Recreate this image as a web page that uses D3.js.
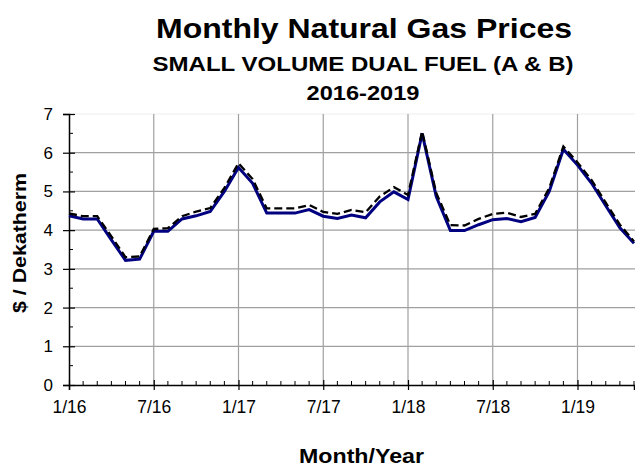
<!DOCTYPE html>
<html>
<head>
<meta charset="utf-8">
<script src="https://cdn.jsdelivr.net/npm/d3@7"></script>
<style>
  body { margin: 0; background: #fff; }
  text { font-family: Arial, "Liberation Sans", sans-serif; fill: #000; }
</style>
</head>
<body>
<svg width="635" height="467"></svg>
<script>
// month index 0 = Jan 2016, 40 = May 2019
var tickMonths = [0, 6, 12, 18, 24, 30, 36];
var tickLabels = ["1/16", "7/16", "1/17", "7/17", "1/18", "7/18", "1/19"];
var yTicks = [0, 1, 2, 3, 4, 5, 6, 7];

// solid navy line
var seriesA = [4.37, 4.29, 4.29, 3.75, 3.22, 3.25, 3.97, 3.97, 4.29, 4.37,
  4.48, 5.00, 5.62, 5.21, 4.44, 4.44, 4.44, 4.53, 4.36, 4.30,
  4.39, 4.32, 4.73, 4.99, 4.79, 6.50, 4.87, 3.99, 3.99, 4.14,
  4.27, 4.30, 4.22, 4.33, 5.00, 6.09, 5.68, 5.21, 4.63, 4.06, 3.66];
// dashed black line
var seriesB = [4.43, 4.36, 4.36, 3.84, 3.30, 3.32, 4.03, 4.05, 4.36, 4.48,
  4.57, 5.09, 5.73, 5.32, 4.56, 4.56, 4.56, 4.65, 4.47, 4.42,
  4.52, 4.46, 4.87, 5.11, 4.91, 6.55, 4.96, 4.13, 4.12, 4.29,
  4.42, 4.45, 4.34, 4.42, 5.09, 6.16, 5.75, 5.29, 4.71, 4.14, 3.71];

var svg = d3.select("svg"),
    width = +svg.attr("width"),
    height = +svg.attr("height");

var plotL = 69, plotR = 635, plotT = 114, plotB = 385;

var x = d3.scaleLinear().domain([0, 40]).range([plotL, plotR - 1]);
var y = d3.scaleLinear().domain([0, 7]).range([plotB, plotT]);

// titles (the original type is a little wider than Arial, so widths are fixed)
function title(txt, cx, by, size, len) {
  svg.append("text")
      .attr("x", cx).attr("y", by)
      .attr("text-anchor", "middle")
      .attr("textLength", len).attr("lengthAdjust", "spacingAndGlyphs")
      .style("font-size", size + "px").style("font-weight", "bold")
      .text(txt);
}
title("Monthly Natural Gas Prices", 364, 38, 28, 416);
title("SMALL VOLUME DUAL FUEL (A & B)", 363, 71, 20, 421);
title("2016-2019", 363, 100, 21, 113);

// grid
var grid = svg.append("g");
grid.selectAll("line.h")
    .data(yTicks.slice(1))
    .enter().append("line")
      .attr("x1", plotL).attr("x2", plotR)
      .attr("y1", function(d) { return y(d); })
      .attr("y2", function(d) { return y(d); })
      .attr("stroke", function(d) { return d == 7 ? "#eeeeee" : "#a0a0a0"; })
      .attr("stroke-width", 1.2);
grid.selectAll("line.v")
    .data(tickMonths.slice(1))
    .enter().append("line")
      .attr("y1", plotT).attr("y2", plotB)
      .attr("x1", function(d) { return x(d); })
      .attr("x2", function(d) { return x(d); })
      .attr("stroke", "#a0a0a0")
      .attr("stroke-width", 1.2);

// y axis
var yAxis = svg.append("g")
    .attr("transform", "translate(" + plotL + ",0)")
    .call(d3.axisLeft(y).tickValues(yTicks).tickFormat(d3.format("d"))
      .tickSize(6).tickPadding(10));
yAxis.attr("font-size", 17).attr("font-family", null);
yAxis.select(".domain").attr("stroke", "#000").attr("stroke-width", 1.5);
yAxis.selectAll(".tick line").attr("x2", -6).attr("x1", 6).attr("stroke-width", 1.2);
yAxis.selectAll("line.minor")
    .data(d3.range(0.5, 7, 1))
    .enter().append("line")
      .attr("x1", 0).attr("x2", 4)
      .attr("y1", function(d) { return y(d); })
      .attr("y2", function(d) { return y(d); })
      .attr("stroke", "#000");

// x axis
var xAxis = svg.append("g")
    .attr("transform", "translate(0," + plotB + ")")
    .call(d3.axisBottom(x).tickValues(tickMonths)
      .tickFormat(function(d, i) { return tickLabels[i]; })
      .tickSize(5).tickPadding(11));
xAxis.attr("font-size", 17.5).attr("font-family", null);
xAxis.select(".domain").attr("stroke", "#000").attr("stroke-width", 1.5);
xAxis.selectAll(".tick line").attr("y1", -5).attr("y2", 5).attr("stroke-width", 1.2);
xAxis.selectAll("line.minor")
    .data(d3.range(0, 41).filter(function(m) { return m % 6 != 0; }))
    .enter().append("line")
      .attr("x1", function(d) { return x(d); })
      .attr("x2", function(d) { return x(d); })
      .attr("y1", 0).attr("y2", -4)
      .attr("stroke", "#000");

// axis titles
svg.append("text")
    .attr("transform", "translate(26,243) rotate(-90)")
    .attr("text-anchor", "middle")
    .attr("textLength", 140).attr("lengthAdjust", "spacingAndGlyphs")
    .style("font-size", "19px").style("font-weight", "bold")
    .text("$ / Dekatherm");
title("Month/Year", 361.5, 463, 20.5, 125);

// lines
var line = function(vals) {
  return d3.line()
      .x(function(d, i) { return x(i); })
      .y(function(d) { return y(d); })(vals);
};

svg.append("path")
    .attr("d", line(seriesA))
    .attr("fill", "none")
    .attr("stroke", "#000080")
    .attr("stroke-width", 3);

svg.append("path")
    .attr("d", line(seriesB))
    .attr("fill", "none")
    .attr("stroke", "#000")
    .attr("stroke-width", 2.3)
    .attr("stroke-dasharray", "8,4");
</script>
</body>
</html>
